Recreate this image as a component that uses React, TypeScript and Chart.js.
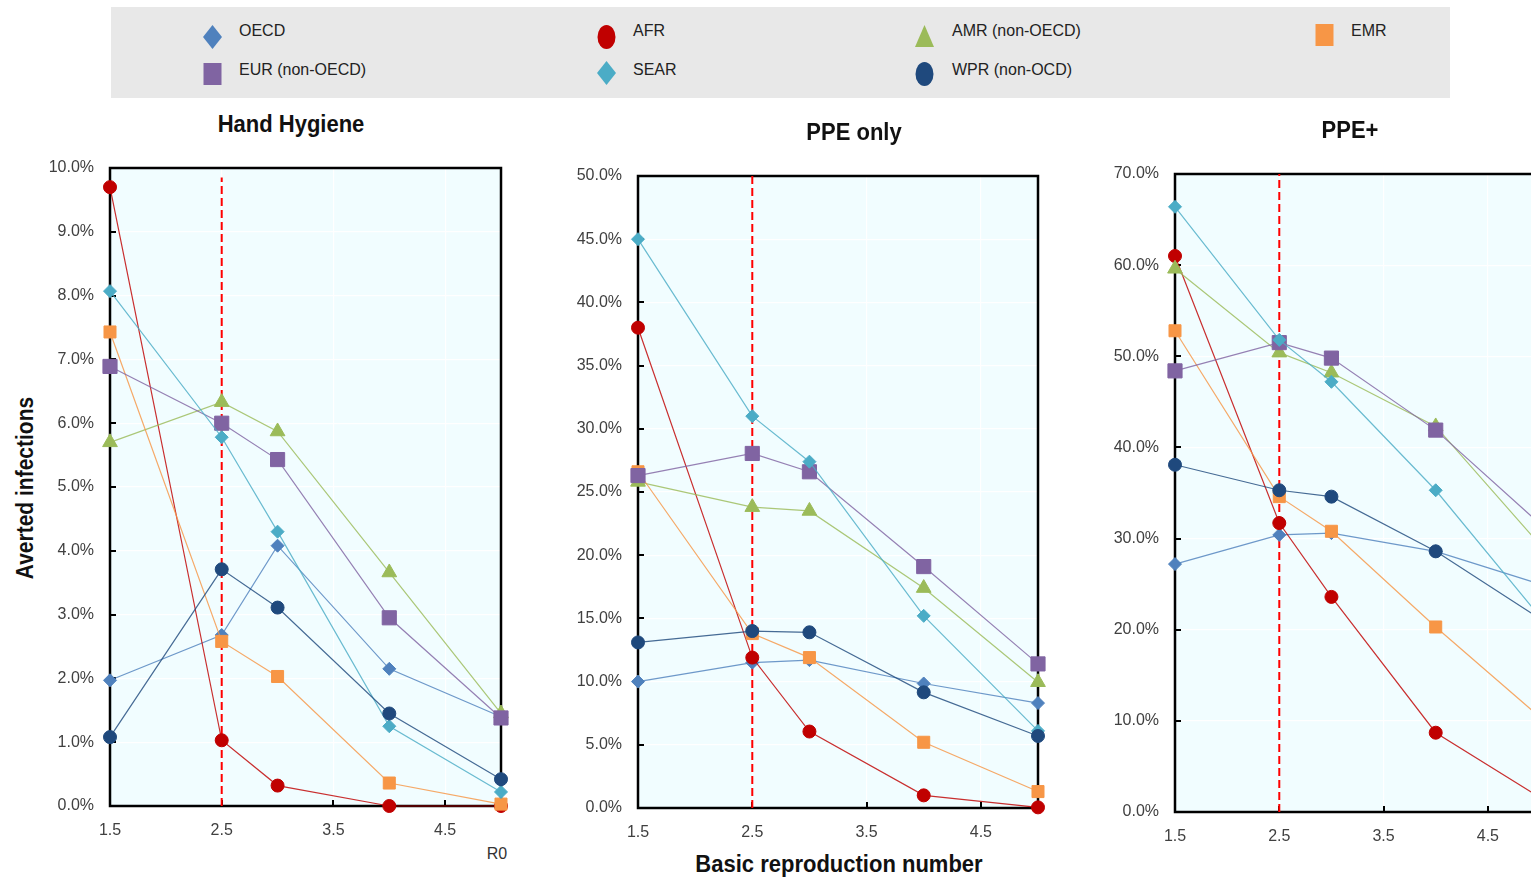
import React, { useEffect, useRef } from "react";
import { Chart, registerables } from "chart.js";

Chart.register(...registerables);

// Basic reproduction number values where each scenario was evaluated
const r0Values = [1.5, 2.5, 3, 4, 5];
const xTickValues = [1.5, 2.5, 3.5, 4.5];
const baselineR0 = 2.5;

const regionNames = ["OECD", "AFR", "AMR (non-OECD)", "EMR", "EUR (non-OECD)", "SEAR", "WPR (non-OCD)"];
const regionColors = ["#4F81BD", "#C00000", "#9BBB59", "#F79646", "#8064A2", "#4BACC6", "#1F497D"];
const regionShapes = ["rectRot", "circle", "triangle", "rect", "rect", "rectRot", "circle"];
const regionSizes = [6.5, 6.5, 8.5, 8.5, 10, 6.5, 6.5];

// Hand hygiene: averted infections (%)
const hhOECD = [1.97, 2.68, 4.08, 2.15, 1.4];
const hhAFR = [9.7, 1.03, 0.32, 0.0, 0.0];
const hhAMR = [5.7, 6.33, 5.87, 3.66, 1.45];
const hhEMR = [7.43, 2.58, 2.03, 0.36, 0.03];
const hhEUR = [6.89, 6.0, 5.43, 2.95, 1.38];
const hhSEAR = [8.07, 5.78, 4.3, 1.25, 0.22];
const hhWPR = [1.08, 3.71, 3.11, 1.45, 0.42];

// PPE only: averted infections (%)
const ppeOECD = [10.0, 11.5, 11.7, 9.85, 8.3];
const ppeAFR = [38.0, 11.9, 6.05, 1.0, 0.05];
const ppeAMR = [25.8, 23.8, 23.5, 17.4, 9.95];
const ppeEMR = [26.6, 13.8, 11.9, 5.2, 1.3];
const ppeEUR = [26.3, 28.05, 26.6, 19.1, 11.4];
const ppeSEAR = [45.0, 31.0, 27.4, 15.2, 6.1];
const ppeWPR = [13.1, 14.0, 13.9, 9.15, 5.7];

// PPE+: averted infections (%)
const plusOECD = [27.2, 30.4, 30.6, 28.6, 25.0];
const plusAFR = [61.0, 31.7, 23.6, 8.7, 1.6];
const plusAMR = [59.6, 50.4, 48.2, 42.3, 29.3];
const plusEMR = [52.8, 34.6, 30.8, 20.3, 10.4];
const plusEUR = [48.4, 51.5, 49.8, 41.9, 31.6];
const plusSEAR = [66.4, 51.8, 47.2, 35.3, 21.4];
const plusWPR = [38.1, 35.3, 34.6, 28.6, 21.2];

const FONT = "'Liberation Sans', Arial, Helvetica, sans-serif";

type Panel = {
  series: number[][];
  yMax: number;
  yStep: number;
  guideTop: number;
  box: { left: number; top: number; width: number; height: number };
  yAxisWidth: number;
  xAxisHeight: number;
  padTop: number;
  padRight: number;
};

const panels: Panel[] = [
  {
    series: [hhOECD, hhAFR, hhAMR, hhEMR, hhEUR, hhSEAR, hhWPR],
    yMax: 10,
    yStep: 1,
    guideTop: 9.85,
    box: { left: 40, top: 138, width: 480, height: 702 },
    yAxisWidth: 70,
    xAxisHeight: 34,
    padTop: 30,
    padRight: 19,
  },
  {
    series: [ppeOECD, ppeAFR, ppeAMR, ppeEMR, ppeEUR, ppeSEAR, ppeWPR],
    yMax: 50,
    yStep: 5,
    guideTop: 50,
    box: { left: 570, top: 140, width: 490, height: 700 },
    yAxisWidth: 68,
    xAxisHeight: 32,
    padTop: 36,
    padRight: 22,
  },
  {
    series: [plusOECD, plusAFR, plusAMR, plusEMR, plusEUR, plusSEAR, plusWPR],
    yMax: 70,
    yStep: 10,
    guideTop: 70,
    box: { left: 1100, top: 140, width: 470, height: 710 },
    yAxisWidth: 75,
    xAxisHeight: 38,
    padTop: 34,
    padRight: 30,
  },
];

function withAlpha(hex: string, a: number) {
  const n = parseInt(hex.slice(1), 16);
  return `rgba(${(n >> 16) & 255},${(n >> 8) & 255},${n & 255},${a})`;
}

// Pale plot background, black frame and inward tick marks
const framePlugin = {
  id: "frame",
  beforeDraw(chart: any) {
    const { ctx, chartArea: a } = chart;
    ctx.save();
    ctx.fillStyle = "#F1FDFF";
    ctx.fillRect(a.left, a.top, a.right - a.left, a.bottom - a.top);
    ctx.restore();
  },
  beforeDatasetsDraw(chart: any) {
    const { ctx, chartArea: a, scales } = chart;
    ctx.save();
    ctx.strokeStyle = "#000";
    ctx.lineWidth = 2.5;
    ctx.strokeRect(a.left, a.top, a.right - a.left, a.bottom - a.top);
    ctx.lineWidth = 2;
    ctx.beginPath();
    scales.y.ticks.forEach((t: any) => {
      const y = Math.round(scales.y.getPixelForValue(t.value));
      ctx.moveTo(a.left, y);
      ctx.lineTo(a.left + 6, y);
    });
    scales.x.ticks.forEach((t: any) => {
      const x = Math.round(scales.x.getPixelForValue(t.value));
      ctx.moveTo(x, a.bottom);
      ctx.lineTo(x, a.bottom - 6);
    });
    ctx.stroke();
    ctx.restore();
  },
};

function PanelChart({ panel }: { panel: Panel }) {
  const ref = useRef<HTMLCanvasElement | null>(null);

  useEffect(() => {
    if (!ref.current) return;
    const datasets: any[] = panel.series.map((vals, i) => ({
      label: regionNames[i],
      data: r0Values.map((x, j) => ({ x, y: vals[j] })),
      borderColor: withAlpha(regionColors[i], 0.82),
      backgroundColor: regionColors[i],
      pointBackgroundColor: regionColors[i],
      pointBorderColor: regionColors[i],
      pointBorderWidth: 1,
      pointStyle: regionShapes[i],
      pointRadius: regionSizes[i],
      borderWidth: 1.2,
      tension: 0,
      clip: false,
      order: panel.series.length - i,
    }));
    datasets.push({
      label: "R0 = 2.5",
      data: [
        { x: baselineR0, y: 0 },
        { x: baselineR0, y: panel.guideTop },
      ],
      borderColor: "#FF0000",
      borderWidth: 2,
      borderDash: [8, 4],
      pointRadius: 0,
      clip: false,
      order: 100,
    });

    const tickFont = { family: FONT, size: 16 };
    const chart = new Chart(ref.current, {
      type: "line",
      data: { datasets },
      plugins: [framePlugin],
      options: {
        animation: false,
        responsive: false,
        events: [],
        layout: { padding: { top: panel.padTop, right: panel.padRight, bottom: 0, left: 0 } },
        plugins: { legend: { display: false }, tooltip: { enabled: false }, title: { display: false } },
        scales: {
          x: {
            type: "linear",
            min: 1.5,
            max: 5,
            afterBuildTicks: (s: any) => {
              s.ticks = xTickValues.map((v) => ({ value: v }));
            },
            afterFit: (s: any) => {
              s.height = panel.xAxisHeight;
            },
            grid: { color: "#FFFFFF", lineWidth: 1.2, drawTicks: false },
            border: { display: false },
            ticks: {
              padding: 15,
              color: "#404040",
              font: tickFont,
              maxRotation: 0,
              callback: (v: any) => Number(v).toFixed(1),
            },
          },
          y: {
            type: "linear",
            min: 0,
            max: panel.yMax,
            afterFit: (s: any) => {
              s.width = panel.yAxisWidth;
            },
            grid: { color: "#FFFFFF", lineWidth: 1.2, drawTicks: false },
            border: { display: false },
            ticks: {
              stepSize: panel.yStep,
              padding: 16,
              color: "#404040",
              font: tickFont,
              callback: (v: any) => Number(v).toFixed(1) + "%",
            },
          },
        },
      } as any,
    });
    return () => chart.destroy();
  }, [panel]);

  const b = panel.box;
  return (
    <canvas
      ref={ref}
      width={b.width}
      height={b.height}
      style={{ position: "absolute", left: b.left, top: b.top, width: b.width, height: b.height }}
    />
  );
}

function LegendMarker({ index }: { index: number }) {
  const c = regionColors[index];
  const s = regionShapes[index];
  let shape: React.ReactNode;
  if (s === "rectRot") shape = <polygon points="9.5,0 19,12 9.5,24 0,12" fill={c} />;
  else if (s === "circle") shape = <ellipse cx="9.5" cy="12" rx="9" ry="12" fill={c} />;
  else if (s === "triangle") shape = <polygon points="9.5,1 19,23 0,23" fill={c} />;
  else shape = <rect x="0.5" y="1" width="18" height="22" fill={c} />;
  return (
    <svg width="19" height="24" viewBox="0 0 19 24" style={{ position: "absolute", left: -9.5, top: -12 }}>
      {shape}
    </svg>
  );
}

const legendCells = [
  { mx: 212, my: 37, tx: 239, ty: 31 },
  { mx: 606, my: 37, tx: 633, ty: 31 },
  { mx: 924, my: 36, tx: 952, ty: 31 },
  { mx: 1324, my: 35, tx: 1351, ty: 31 },
  { mx: 212, my: 74, tx: 239, ty: 70 },
  { mx: 606, my: 73, tx: 633, ty: 70 },
  { mx: 924, my: 74, tx: 952, ty: 70 },
];

const centered = (x: number, y: number, extra = ""): React.CSSProperties => ({
  position: "absolute",
  left: x,
  top: y,
  transform: `translate(-50%, -50%) ${extra}`,
  whiteSpace: "nowrap",
  lineHeight: 1,
  fontFamily: FONT,
});

export default function App() {
  return (
    <div
      style={{
        position: "fixed",
        left: 0,
        top: 0,
        right: 0,
        bottom: 0,
        overflow: "hidden",
        background: "#FFFFFF",
      }}
    >
      <div style={{ position: "absolute", left: 111, top: 7, width: 1339, height: 91, background: "#E8E8E8" }} />
      {legendCells.map((cell, i) => (
        <React.Fragment key={regionNames[i]}>
          <div style={{ position: "absolute", left: cell.mx, top: cell.my }}>
            <LegendMarker index={i} />
          </div>
          <div
            style={{
              position: "absolute",
              left: cell.tx,
              top: cell.ty,
              transform: "translateY(-50%)",
              fontFamily: FONT,
              fontSize: 16,
              lineHeight: 1,
              color: "#222",
              whiteSpace: "nowrap",
            }}
          >
            {regionNames[i]}
          </div>
        </React.Fragment>
      ))}

      {panels.map((p, i) => (
        <PanelChart key={i} panel={p} />
      ))}

      <div style={{ ...centered(291, 124, "scaleY(1.12)"), fontSize: 22, fontWeight: 700, color: "#111" }}>Hand Hygiene</div>
      <div style={{ ...centered(854, 132, "scaleY(1.12)"), fontSize: 22, fontWeight: 700, color: "#111" }}>PPE only</div>
      <div style={{ ...centered(1350, 130, "scaleY(1.12)"), fontSize: 22, fontWeight: 700, color: "#111" }}>PPE+</div>

      <div style={{ ...centered(25, 488, "rotate(-90deg) scaleY(1.1)"), fontSize: 21, fontWeight: 700, color: "#111" }}>
        Averted infections
      </div>
      <div style={{ ...centered(839, 864, "scaleY(1.08)"), fontSize: 22, fontWeight: 700, color: "#111" }}>
        Basic reproduction number
      </div>
      <div style={{ ...centered(497, 854), fontSize: 16, color: "#333" }}>R0</div>
    </div>
  );
}
